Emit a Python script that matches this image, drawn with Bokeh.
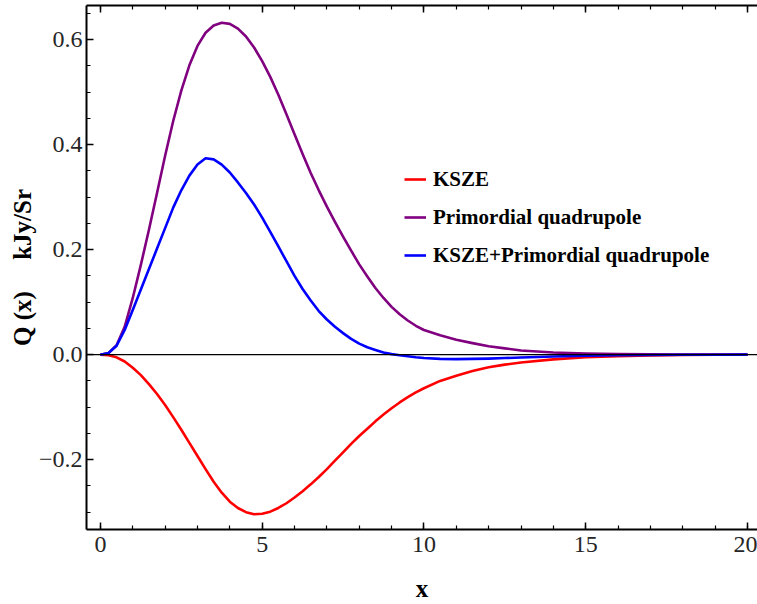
from bokeh.plotting import figure
from bokeh.models import (LinearAxis, SingleIntervalTicker, CustomJSTickFormatter,
                          Span, Legend, LegendItem, Range1d)
from bokeh.embed import file_html
from bokeh.resources import INLINE

# ---- data ----
x_vals = [0, 0.25, 0.5, 0.75, 1.0, 1.25, 1.5, 1.75, 2.0, 2.25, 2.5, 2.75, 3.0, 3.25,
          3.5, 3.75, 4.0, 4.25, 4.5, 4.75, 5.0, 5.25, 5.5, 5.75, 6.0, 6.25, 6.5, 6.75,
          7.0, 7.25, 7.5, 7.75, 8.0, 8.25, 8.5, 8.75, 9.0, 9.25, 9.5, 9.75, 10.0,
          10.5, 11, 11.5, 12, 12.5, 13, 14, 15, 16, 17, 18, 19, 20]

ksze = [0, -0.001, -0.005, -0.013, -0.025, -0.039, -0.056, -0.075, -0.096, -0.119,
        -0.143, -0.168, -0.193, -0.218, -0.242, -0.263, -0.280, -0.292, -0.300, -0.304,
        -0.303, -0.299, -0.292, -0.283, -0.272, -0.260, -0.247, -0.233, -0.218, -0.202,
        -0.186, -0.170, -0.155, -0.141, -0.127, -0.114, -0.102, -0.091, -0.081, -0.072,
        -0.064, -0.050, -0.040, -0.031, -0.024, -0.019, -0.015, -0.009, -0.005, -0.003,
        -0.0015, -0.0007, -0.0003, -0.0001]

primordial = [0, 0.003, 0.018, 0.053, 0.108, 0.171, 0.238, 0.308, 0.379, 0.445,
              0.503, 0.551, 0.588, 0.613, 0.627, 0.632, 0.630, 0.621, 0.606, 0.585,
              0.559, 0.529, 0.495, 0.458, 0.420, 0.382, 0.346, 0.313, 0.282, 0.253,
              0.225, 0.198, 0.172, 0.149, 0.127, 0.108, 0.091, 0.077, 0.065, 0.055,
              0.047, 0.037, 0.0285, 0.022, 0.016, 0.012, 0.008, 0.004, 0.002, 0.001,
              0.0005, 0.00025, 0.0001, 0.00005]

combined = [0, 0.003, 0.017, 0.047, 0.085, 0.124, 0.163, 0.202, 0.241, 0.280,
            0.313, 0.341, 0.362, 0.374, 0.372, 0.362, 0.347, 0.328, 0.308, 0.286,
            0.261, 0.234, 0.206, 0.178, 0.150, 0.125, 0.103, 0.083, 0.067, 0.053,
            0.041, 0.030, 0.021, 0.014, 0.009, 0.004, 0.001, -0.001, -0.003, -0.005,
            -0.0065, -0.008, -0.0085, -0.008, -0.0075, -0.0065, -0.0055, -0.0035,
            -0.002, -0.0012, -0.0006, -0.0003, -0.0001, 0]

series_labels = ["KSZE", "Primordial quadrupole", "KSZE+Primordial quadrupole"]
series_colors = ["#FF0000", "#800080", "#0000FF"]

x_title = "x"
y_title = "Q (x)" + "\u00a0" * 5 + "kJy/Sr"

FONT = "Liberation Serif"
TICK_COLOR = "#262626"

p = figure(width=757, height=604,
           x_range=Range1d(-0.43, 20.31), y_range=Range1d(-0.333, 0.665),
           output_backend="svg", toolbar_location=None,
           min_border_left=86, min_border_right=0, min_border_top=5,
           min_border_bottom=73, x_axis_location=None, y_axis_location=None)
p.grid.visible = False
p.outline_line_color = None
p.background_fill_color = "white"
p.border_fill_color = "white"


def style_axis(ax, labels=True):
    ax.axis_line_color = "black"
    ax.axis_line_width = 2
    ax.major_tick_in = 7
    ax.major_tick_out = 0
    ax.minor_tick_in = 4
    ax.minor_tick_out = 0
    ax.major_tick_line_width = 1.5
    ax.minor_tick_line_width = 1.2
    ax.major_tick_line_color = "black"
    ax.minor_tick_line_color = "black"
    if labels:
        ax.major_label_text_font = FONT
        ax.major_label_text_font_size = "24px"
        ax.major_label_text_color = TICK_COLOR
    else:
        ax.major_label_text_font_size = "1px"
        ax.major_label_text_color = None
        ax.major_label_standoff = 0


xb = LinearAxis(ticker=SingleIntervalTicker(interval=5, num_minor_ticks=5))
style_axis(xb)
xb.major_label_standoff = 7
xb.axis_label = x_title
xb.axis_label_text_font = FONT
xb.axis_label_text_font_style = "bold"
xb.axis_label_text_font_size = "25px"
xb.axis_label_text_color = "black"
xb.axis_label_standoff = 20
p.add_layout(xb, "below")

xt = LinearAxis(ticker=SingleIntervalTicker(interval=5, num_minor_ticks=5))
style_axis(xt, labels=False)
p.add_layout(xt, "above")

yl = LinearAxis(ticker=SingleIntervalTicker(interval=0.2, num_minor_ticks=4),
                formatter=CustomJSTickFormatter(
                    code="return tick.toFixed(1).replace('-', '\u2212');"))
style_axis(yl)
yl.major_label_standoff = 4
yl.axis_label = y_title
yl.axis_label_text_font = FONT
yl.axis_label_text_font_style = "bold"
yl.axis_label_text_font_size = "25px"
yl.axis_label_text_color = "black"
yl.axis_label_standoff = 0
p.add_layout(yl, "left")

p.add_layout(Span(location=0, dimension="width", line_color="black", line_width=1.3))

renderers = []
for ys, c in zip([ksze, primordial, combined], series_colors):
    r = p.line(x_vals, ys, line_color=c, line_width=2.6, line_join="round")
    renderers.append(r)

legend = Legend(items=[LegendItem(label=l, renderers=[r])
                       for l, r in zip(series_labels, renderers)],
                location=(318, 258))
legend.border_line_color = None
legend.background_fill_alpha = 0
legend.padding = 0
legend.margin = 0
legend.spacing = 6
legend.glyph_width = 22
legend.glyph_height = 32
legend.label_height = 32
legend.label_standoff = 7
legend.label_text_font = FONT
legend.label_text_font_style = "bold"
legend.label_text_font_size = "21px"
legend.label_text_color = "black"
p.add_layout(legend)

open("out.html", "w").write(file_html(p, INLINE))
